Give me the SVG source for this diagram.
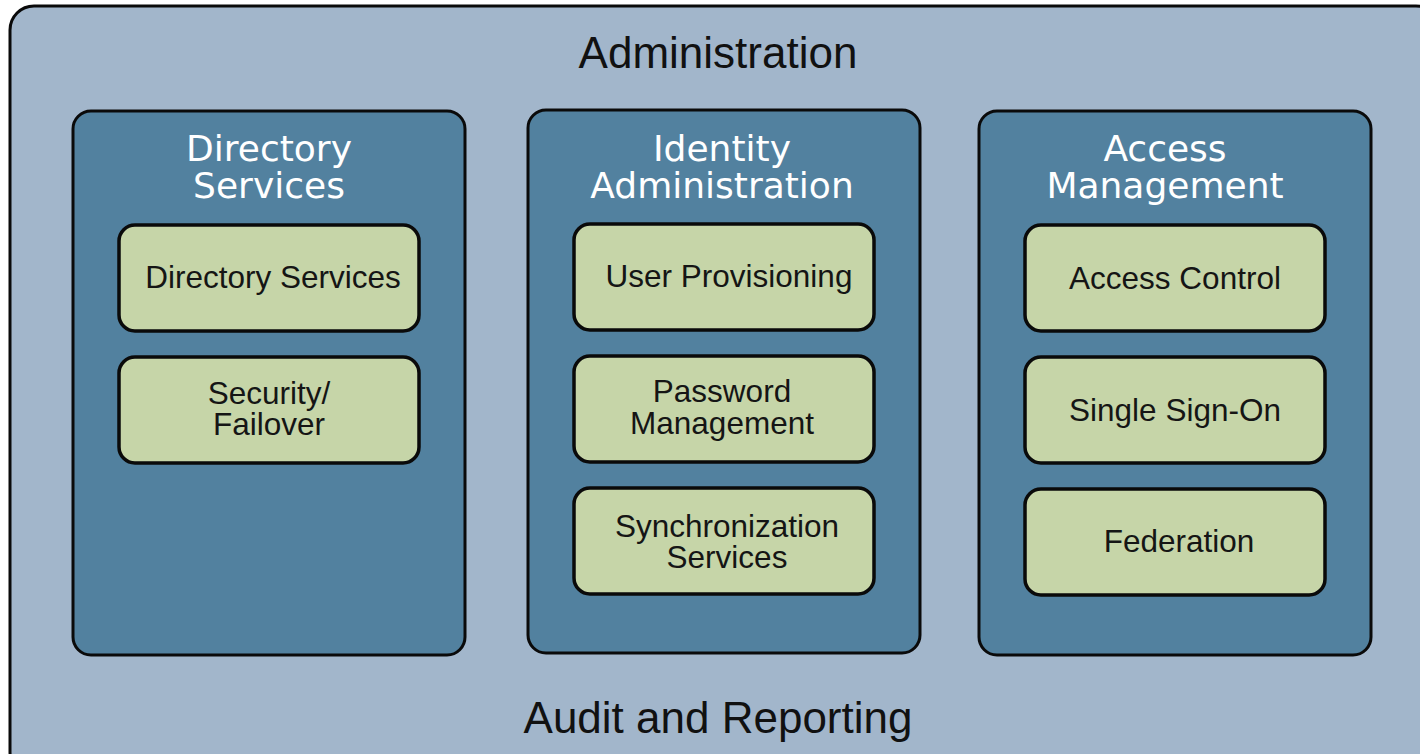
<svg xmlns="http://www.w3.org/2000/svg" width="1420" height="754" viewBox="0 0 1420 754">
  <style>
    .outer { fill: #a2b6cb; stroke: #0a0a0a; stroke-width: 3; }
    .panel { fill: #52819f; stroke: #0a0a0a; stroke-width: 3; }
    .box { fill: #c6d5a8; stroke: #0a0a0a; stroke-width: 3.5; }
    .big { font-family: "Liberation Sans", Arial, sans-serif; font-size: 44px; fill: #111; text-anchor: middle; }
    .title { font-family: "DejaVu Sans", sans-serif; font-size: 36px; fill: #ffffff; text-anchor: middle; }
    .label { font-family: "Liberation Sans", Arial, sans-serif; font-size: 31.5px; fill: #151515; text-anchor: middle; }
  </style>

  <!-- Outer administration frame -->
  <g id="administration">
    <rect class="outer" x="10" y="6" width="1430" height="770" rx="24" ry="24"/>
    <text class="big" x="718" y="68">Administration</text>
    <text class="big" x="718" y="733">Audit and Reporting</text>
  </g>

  <!-- Directory Services column -->
  <g id="directory-services">
    <rect class="panel" x="73" y="111" width="392" height="544" rx="18" ry="18"/>
    <text class="title" x="269" y="161">Directory</text>
    <text class="title" x="269" y="198">Services</text>
  </g>
  <g id="ds-directory-services">
    <rect class="box" x="119" y="225" width="300" height="106" rx="16" ry="16"/>
    <text class="label" x="273" y="288">Directory Services</text>
  </g>
  <g id="ds-security-failover">
    <rect class="box" x="119" y="357" width="300" height="106" rx="16" ry="16"/>
    <text class="label" x="269" y="404">Security/</text>
    <text class="label" x="269" y="435">Failover</text>
  </g>

  <!-- Identity Administration column -->
  <g id="identity-administration">
    <rect class="panel" x="528" y="110" width="392" height="543" rx="18" ry="18"/>
    <text class="title" x="722" y="161">Identity</text>
    <text class="title" x="722" y="198">Administration</text>
  </g>
  <g id="ia-user-provisioning">
    <rect class="box" x="574" y="224" width="300" height="106" rx="16" ry="16"/>
    <text class="label" x="729" y="287">User Provisioning</text>
  </g>
  <g id="ia-password-management">
    <rect class="box" x="574" y="356" width="300" height="106" rx="16" ry="16"/>
    <text class="label" x="722" y="402">Password</text>
    <text class="label" x="722" y="434">Management</text>
  </g>
  <g id="ia-synchronization-services">
    <rect class="box" x="574" y="488" width="300" height="106" rx="16" ry="16"/>
    <text class="label" x="727" y="537">Synchronization</text>
    <text class="label" x="727" y="568">Services</text>
  </g>

  <!-- Access Management column -->
  <g id="access-management">
    <rect class="panel" x="979" y="111" width="392" height="544" rx="18" ry="18"/>
    <text class="title" x="1165" y="161">Access</text>
    <text class="title" x="1165" y="198">Management</text>
  </g>
  <g id="am-access-control">
    <rect class="box" x="1025" y="225" width="300" height="106" rx="16" ry="16"/>
    <text class="label" x="1175" y="289">Access Control</text>
  </g>
  <g id="am-single-sign-on">
    <rect class="box" x="1025" y="357" width="300" height="106" rx="16" ry="16"/>
    <text class="label" x="1175" y="421">Single Sign-On</text>
  </g>
  <g id="am-federation">
    <rect class="box" x="1025" y="489" width="300" height="106" rx="16" ry="16"/>
    <text class="label" x="1179" y="552">Federation</text>
  </g>

  <!-- No connectors in this layout -->
  <g id="connectors"/>
</svg>
